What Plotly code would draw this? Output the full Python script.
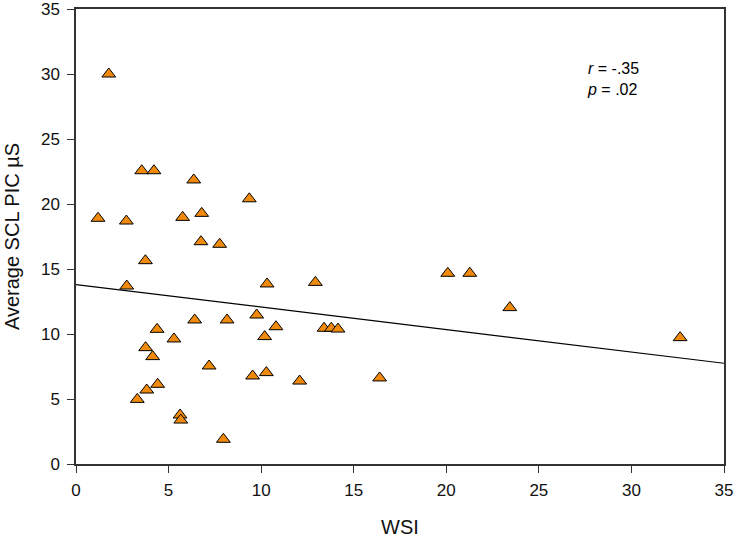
import plotly.graph_objects as go

wsi = [1.77, 3.55, 4.21, 6.36, 9.36, 1.19, 2.72, 5.76, 6.79, 6.75, 7.76,
       3.75, 2.74, 10.32, 12.93, 6.41, 8.16, 9.76, 10.8, 4.38, 13.4, 13.79, 14.15,
       5.29, 10.19, 3.76, 4.14, 7.19, 9.54, 10.28, 12.08, 16.4, 4.41, 3.82, 3.31,
       5.62, 5.66, 7.96, 20.08, 21.27, 23.43, 32.63]
scl = [30.0, 22.56, 22.56, 21.85, 20.4, 18.9, 18.69, 18.97, 19.28, 17.1, 16.9,
       15.64, 13.69, 13.85, 13.97, 11.08, 11.08, 11.46, 10.56, 10.36, 10.44, 10.44, 10.38,
       9.62, 9.8, 8.95, 8.26, 7.54, 6.77, 7.03, 6.38, 6.62, 6.13, 5.69, 4.97,
       3.77, 3.38, 1.9, 14.67, 14.67, 12.03, 9.72]

fit_x = [0, 35]
fit_y = [13.8, 7.75]

tick_vals = [0, 5, 10, 15, 20, 25, 30, 35]

FONT = "Liberation Sans, Arial, sans-serif"

fig = go.Figure()
fig.add_trace(go.Scatter(x=fit_x, y=fit_y, mode="lines",
                         line=dict(color="black", width=1.2), showlegend=False))
fig.add_trace(go.Scatter(x=wsi, y=scl, mode="markers",
                         marker=dict(symbol="triangle-up", size=12, color="#F08A0C",
                                     line=dict(color="black", width=1)),
                         showlegend=False))

axis_common = dict(range=[0, 35], tickvals=tick_vals, showgrid=False, zeroline=False,
                   showline=True, linecolor="#333", linewidth=1.5, mirror=True,
                   ticks="outside", ticklen=7, tickcolor="#333", tickwidth=1.2,
                   automargin=False, ticklabeloverflow="allow",
                   tickfont=dict(family=FONT, size=17, color="#111"))

fig.update_layout(
    width=739, height=538,
    margin=dict(l=76, r=15, t=9, b=74),
    plot_bgcolor="white", paper_bgcolor="white",
    xaxis=dict(**axis_common, ticklabelstandoff=3,
               title=dict(text="WSI", standoff=25,
                          font=dict(family=FONT, size=20, color="#111"))),
    yaxis=dict(**axis_common, ticklabelstandoff=4,
               title=dict(text="Average SCL PIC µS", standoff=16,
                          font=dict(family=FONT, size=20, color="#111"))),
    annotations=[dict(x=27.5, y=29.65, xref="x", yref="y", xanchor="left", yanchor="middle",
                      text="<i>r</i> = -.35<br><i>p</i> = .02", showarrow=False, align="left",
                      font=dict(family=FONT, size=16, color="black"))],
)

fig.write_html("out.html", config={"displayModeBar": False},
               post_script="document.body.style.margin='0';")
